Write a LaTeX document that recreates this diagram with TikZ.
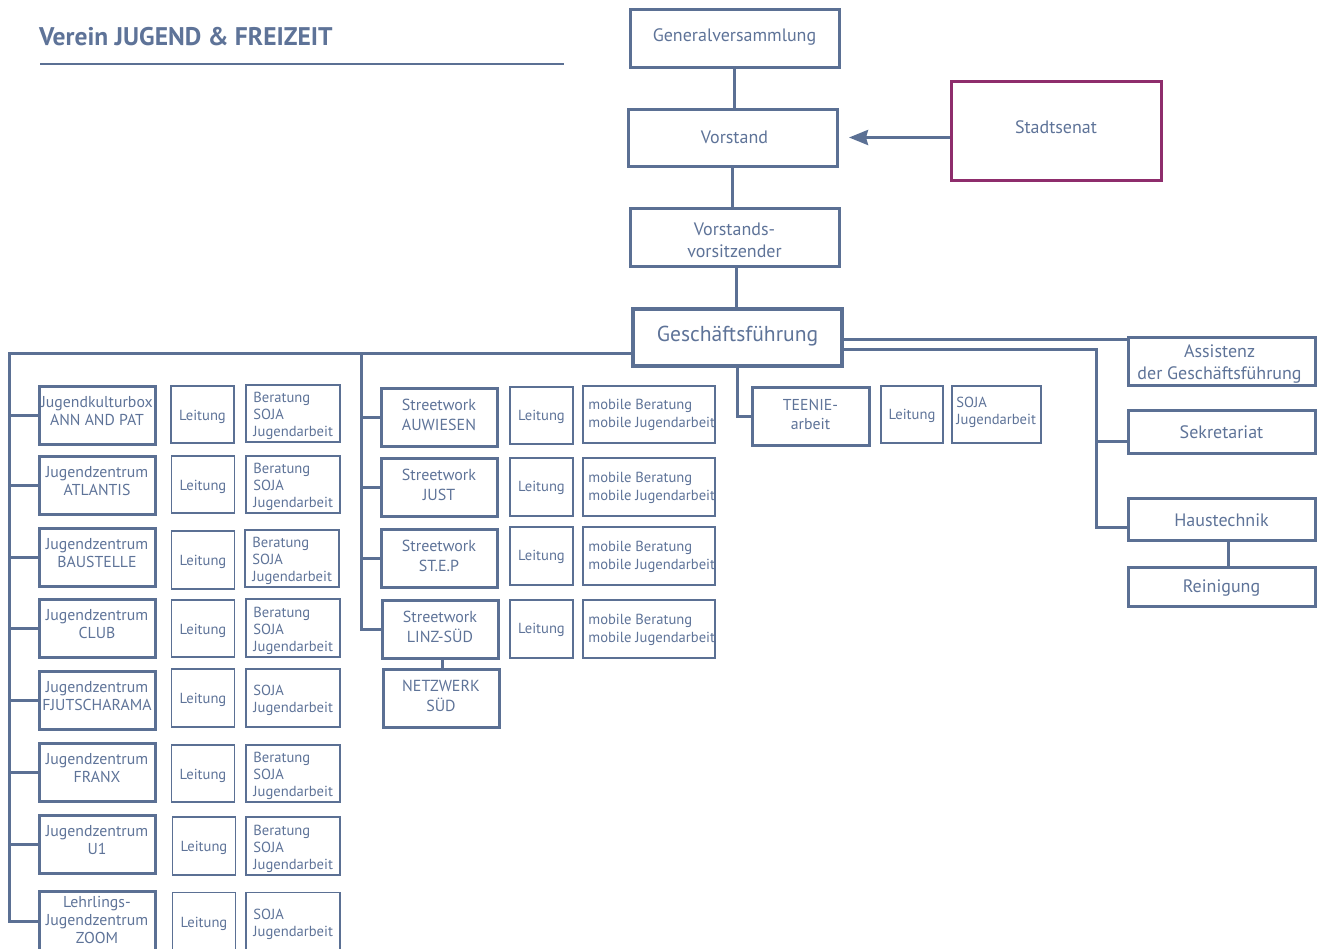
\documentclass[tikz,border=0pt]{standalone}
\usepackage{fontspec}
\setmainfont{PT Sans}
\usetikzlibrary{arrows.meta}
\definecolor{blu}{HTML}{5B7094}
\definecolor{blutxt}{HTML}{5E7398}
\definecolor{mag}{HTML}{8E2D6C}
\tikzset{
  base/.style={draw=blu, inner sep=0pt},
  thickbox/.style={base, line width=3pt},
  thinbox/.style={base, line width=1.6pt},
  topbox/.style={base, line width=3pt},
  conn/.style={draw=blu, line width=3pt},
  sz/.style 2 args={minimum width=#1pt, minimum height=#2pt},
  txt/.style={text=blutxt, inner sep=0pt, align=center},
  ttop/.style={txt, font=\fontsize{18}{22}\selectfont},
  tgf/.style={txt, font=\fontsize{21.6}{24}\selectfont},
  tleft/.style={txt, font=\fontsize{15.8}{18}\selectfont},
  tstreet/.style={txt, font=\fontsize{16}{19.5}\selectfont},
  tsmall/.style={txt, font=\fontsize{14.6}{17}\selectfont},
  tsl/.style={txt, align=left, anchor=west, font=\fontsize{14.6}{17}\selectfont},
  tmob/.style={txt, align=left, anchor=west, font=\fontsize{14.6}{18}\selectfont},
}
\begin{document}
\begin{tikzpicture}[x=1pt,y=-1pt]
\useasboundingbox (0,0) rectangle (1319,948);
% title
\node[anchor=base west, inner sep=0pt, text=blutxt, font=\fontsize{25.5}{28}\selectfont\bfseries] (title) at (39,45) {Verein JUGEND \& FREIZEIT};
\coordinate (ul1) at (40,64);
\coordinate (ul2) at (564,64);
\draw[draw=blu, line width=1.6pt] (ul1) -- (ul2);

% top chain
\node[topbox, sz={209}{58}] (gv) at (734.5,38) {};
\node[ttop] (gvt) at ([yshift=1pt]gv.center) {Generalversammlung};
\node[topbox, sz={209}{57}] (vo) at (732.5,137.5) {};
\node[ttop] (vot) at ([xshift=2pt]vo.center) {Vorstand};
\node[topbox, sz={210}{99}, draw=mag] (st) at (1056,130.5) {};
\node[ttop] (stt) at ([yshift=3pt]st.center) {Stadtsenat};
\node[topbox, sz={209}{58}] (vv) at (734.5,237) {};
\node[ttop] (vvt) at ([yshift=-3pt]vv.center) {Vorstands-\\vorsitzender};
\node[topbox, sz={209}{57}, line width=3.4pt] (gf) at (737.5,337.5) {};
\node[tgf] (gft) at ([yshift=1pt]gf.center) {Geschäftsführung};

\draw[conn] (gv.south) -- (gv.south |- vo.north);
\draw[conn] (vo.south) -- (vo.south |- vv.north);
\draw[conn] (vv.south) ++(2,0) coordinate (vvs) -- (vvs |- gf.north);
\coordinate (arrtip) at (849,137.5);
\draw[conn, -{Stealth[length=19pt,width=15pt,inset=2pt]}] (st.west |- vo.east) -- (arrtip);

% right side
\node[topbox, sz={187}{48}] (as) at (1221.5,361) {};
\node[ttop] (ast) at ([yshift=-3pt,xshift=-2pt]as.center) {Assistenz\\der Geschäftsführung};
\node[topbox, sz={187}{43}] (se) at (1221.5,431.5) {};
\node[ttop] (set) at ([yshift=-1pt]se.center) {Sekretariat};
\node[topbox, sz={187}{42}] (ha) at (1221.5,519) {};
\node[ttop] (hat) at ([yshift=-1pt]ha.center) {Haustechnik};
\node[topbox, sz={187}{39}] (re) at (1221.5,586.5) {};
\node[ttop] (ret) at ([yshift=-2pt]re.center) {Reinigung};
\coordinate (r1) at (0,339);
\coordinate (r2) at (0,349);
\coordinate (busR) at (1096,349);
\draw[conn] (gf.east |- r1) -- (as.west |- r1);
\draw[conn] (gf.east |- r2) -- (busR) |- ([yshift=-8pt]ha.west);
\draw[conn] (busR |- se.west) ++(0,10) coordinate (sej) -- (sej -| se.west);
\draw[conn] (ha.south) ++(7,0) coordinate (has) -- (has |- re.north);

% TEENIE
\node[thickbox, sz={117}{58}] (te) at (810.5,416) {};
\node[tstreet, font=\fontsize{15.8}{19}\selectfont] (tet) at ([yshift=2pt]te.center) {TEENIE-\\arbeit};
\node[thinbox, sz={62}{57}] (tl) at (912,414.5) {};
\node[tsmall] (tlt) at ([yshift=-1pt]tl.center) {Leitung};
\node[thinbox, sz={89}{57}] (ts) at (996.5,414.5) {};
\node[tsl] (tst) at ([xshift=5pt,yshift=2pt]ts.west) {SOJA\\Jugendarbeit};
\draw[conn] (gf.south) |- (te.west);

% buses
\coordinate (busL) at (9,353);
\coordinate (busS) at (361,353);

% left column
\foreach \n/\y/\h/\t in {
  b1/415/58/{Jugendkulturbox\\ANN AND PAT},
  b2/485/58/{Jugendzentrum\\ATLANTIS},
  b3/557/58/{Jugendzentrum\\BAUSTELLE},
  b4/628/58/{Jugendzentrum\\CLUB},
  b5/700/58/{Jugendzentrum\\FJUTSCHARAMA},
  b6/772/58/{Jugendzentrum\\FRANX},
  b7/844/58/{Jugendzentrum\\U1}}{
  \node[thickbox, sz={116}{\h}] (\n) at (97,\y) {};
  \node[tleft] (\n t) at ([yshift=4pt]\n.center) {\t};
}
\node[thickbox, sz={116}{60}] (b8) at (97,921) {};
\node[tleft] (b8t) at ([yshift=1pt]b8.center) {Lehrlings-\\Jugendzentrum\\ZOOM};

\foreach \n/\x/\y/\h in {l1/202.5/414.5/57, l2/203/484.5/57, l3/203/560/58, l4/203/628.5/57,
  l5/203/698/58, l6/203/773.5/57, l7/204/846/58, l8/204/921.5/58}{
  \node[thinbox, sz={63}{\h}] (\n) at (\x,\y) {};
  \node[tsmall] (\n t) at ([yshift=-2pt]\n.center) {Leitung};
}

\foreach \n/\x/\y/\h/\t in {
  c1/293/413.5/57/{Beratung\\SOJA\\Jugendarbeit},
  c2/293/484.5/57/{Beratung\\SOJA\\Jugendarbeit},
  c3/292/558.5/57/{Beratung\\SOJA\\Jugendarbeit},
  c4/293/628/58/{Beratung\\SOJA\\Jugendarbeit},
  c5/293/698/58/{SOJA\\Jugendarbeit},
  c6/293/773.5/57/{Beratung\\SOJA\\Jugendarbeit},
  c7/293/846/58/{Beratung\\SOJA\\Jugendarbeit},
  c8/293/921.5/58/{SOJA\\Jugendarbeit}}{
  \node[thinbox, sz={94}{\h}] (\n) at (\x,\y) {};
  \node[tsl] (\n t) at ([xshift=8pt,yshift=-2.5pt]\n.west) {\t};
}

\draw[conn] (gf.west |- busL) -- (busL) |- (b8.west);
\foreach \n in {b1,b2,b3,b4,b5,b6,b7}{
  \draw[conn] (busL |- \n.west) -- (\n.west);
}

% streetwork
\foreach \n/\x/\y/\t in {
  s1/439/417/{Streetwork\\AUWIESEN},
  s2/439/487/{Streetwork\\JUST},
  s3/439/558/{Streetwork\\ST.E.P},
  s4/440/629/{Streetwork\\LINZ-SÜD},
  nw/441/698/{NETZWERK\\SÜD}}{
  \node[thickbox, sz={116}{58}] (\n) at (\x,\y) {};
  \node[tstreet] (\n t) at ([yshift=2pt]\n.center) {\t};
}
\draw[conn] ([xshift=2pt]s4.south) coordinate (s4s) -- (s4s |- nw.north);

\foreach \n/\y/\h in {m1/415.5/57, m2/487/58, m3/556/58, m4/629/58}{
  \node[thinbox, sz={63}{\h}] (\n) at (541.5,\y) {};
  \node[tsmall] (\n t) at ([yshift=-1pt]\n.center) {Leitung};
}
\foreach \n/\y/\h in {n1/414.5/57, n2/487/58, n3/556/58, n4/629/58}{
  \node[thinbox, sz={132}{\h}] (\n) at (649,\y) {};
  \node[tmob] (\n t) at ([xshift=6pt,yshift=-0.5pt]\n.west) {mobile Beratung\\mobile Jugendarbeit};
}

\draw[conn] (busS) |- (s4.west);
\foreach \n in {s1,s2,s3}{
  \draw[conn] (busS |- \n.west) -- (\n.west);
}
\end{tikzpicture}
\end{document}
